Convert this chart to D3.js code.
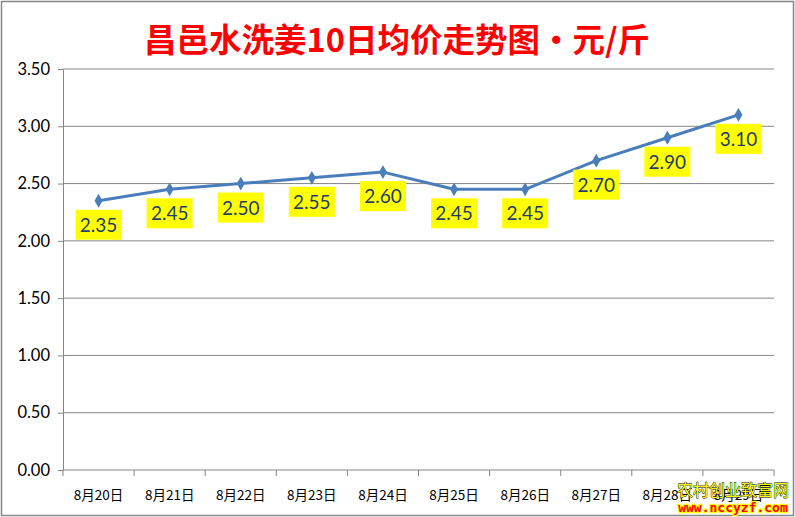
<!DOCTYPE html>
<html><head><meta charset="utf-8">
<script src="https://cdn.jsdelivr.net/npm/d3@7"></script>
<style>body{margin:0;background:#fff}</style>
</head><body>
<svg id="c" width="795" height="517"></svg>
<script>
const categories = ["8月20日","8月21日","8月22日","8月23日","8月24日","8月25日","8月26日","8月27日","8月28日","8月29日"];
const prices = [2.35,2.45,2.50,2.55,2.60,2.45,2.45,2.70,2.90,3.10];
const yTicks = [0,0.5,1,1.5,2,2.5,3,3.5];
const title = "昌邑水洗姜10日均价走势图·元/斤";

const svg = d3.select("#c");
svg.append("rect").attr("x",1.5).attr("y",1.5).attr("width",792).attr("height",514)
  .attr("fill","#fff").attr("stroke","#868686").attr("stroke-width",1.5);

const m = {l:63, r:774, t:69, b:470};
const x = d3.scaleBand().domain(categories).range([m.l, m.r]);
const y = d3.scaleLinear().domain([0,3.5]).range([m.b, m.t]);

svg.append("text").attr("x",397).attr("y",52).attr("text-anchor","middle")
  .attr("font-family","'Noto Sans CJK SC'").attr("font-weight","bold").attr("font-size",32.5)
  .attr("fill","#ff0000").text(title);

// grid
const gy = svg.append("g").attr("transform",`translate(${m.l},0)`)
  .call(d3.axisLeft(y).tickValues(yTicks).tickFormat(d3.format(".2f")).tickSize(5).tickSizeOuter(0));
gy.select(".domain").attr("stroke","#868686");
gy.selectAll(".tick line").attr("stroke","#868686");
gy.selectAll(".tick text").attr("font-family","Lato, 'Open Sans', sans-serif").attr("font-size",16.5).attr("fill","#000").attr("x",-13);
svg.append("g").selectAll("line").data(yTicks.filter(d=>d>0)).join("line")
  .attr("x1",m.l).attr("x2",m.r).attr("y1",d=>y(d)).attr("y2",d=>y(d)).attr("stroke","#868686");

// x axis
svg.append("line").attr("x1",m.l).attr("x2",m.r).attr("y1",m.b).attr("y2",m.b).attr("stroke","#868686");
const bounds = categories.map(c=>x(c)).concat([m.r]);
svg.append("g").selectAll("line").data(bounds).join("line")
  .attr("x1",d=>d).attr("x2",d=>d).attr("y1",m.b).attr("y2",m.b+6).attr("stroke","#868686");
svg.append("g").selectAll("text").data(categories).join("text")
  .attr("x",d=>x(d)+x.bandwidth()/2).attr("y",500).attr("text-anchor","middle")
  .attr("font-family","'Noto Sans CJK SC'").attr("font-size",13.5).attr("fill","#000").text(d=>d);

// line
const cx = (d,i)=>x(categories[i])+x.bandwidth()/2;
svg.append("path").datum(prices)
  .attr("d", d3.line().x(cx).y(d=>y(d)))
  .attr("fill","none").attr("stroke","#4a7ebb").attr("stroke-width",3).attr("stroke-linejoin","round");
svg.append("g").selectAll("path").data(prices).join("path")
  .attr("transform",(d,i)=>`translate(${cx(d,i)},${y(d)})`)
  .attr("d", d3.symbol(d3.symbolDiamond,55)())
  .attr("fill","#4a7ebb");

// labels
const lg = svg.append("g").selectAll("g").data(prices).join("g")
  .attr("transform",(d,i)=>`translate(${cx(d,i)},${y(d)+24})`);
lg.append("rect").attr("x",-23).attr("y",-15).attr("width",46).attr("height",30).attr("fill","#ffff00");
lg.append("text").attr("text-anchor","middle").attr("y",7)
  .attr("font-family","Lato, 'Open Sans', sans-serif").attr("font-size",19).attr("fill","#1f3c6e")
  .text(d=>d.toFixed(2));

// watermark
svg.append("text").attr("x",733).attr("y",496).attr("text-anchor","middle")
  .attr("font-family","'Noto Sans CJK SC'").attr("font-size",16).attr("fill","#ffff00")
  .attr("stroke","#000").attr("stroke-width",0.8).attr("paint-order","stroke").text("农村创业致富网");
svg.append("text").attr("x",733).attr("y",512).attr("text-anchor","middle")
  .attr("font-family","'DejaVu Sans Mono', monospace").attr("font-weight","bold").attr("font-size",13).attr("fill","#ff0000")
  .attr("stroke","#ffff00").attr("stroke-width",2.5).attr("paint-order","stroke").text("www.nccyzf.com");
</script>
</body></html>
